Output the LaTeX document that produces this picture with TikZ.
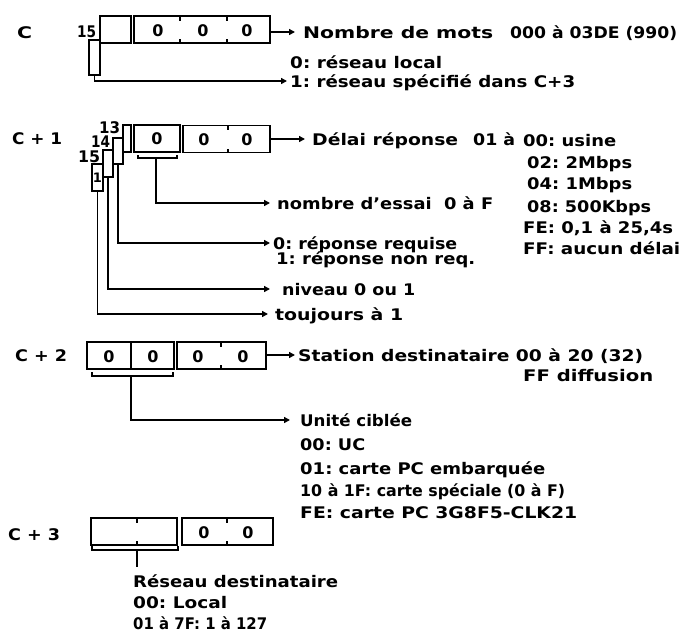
\documentclass[tikz,border=0pt]{standalone}
\usepackage{fontspec}
\usepackage{graphicx}
\setmainfont{DejaVu Sans}
\usetikzlibrary{arrows.meta}
\frenchspacing
\newcommand{\fw}[2]{\resizebox{#1pt}{\height}{#2}}
\begin{document}
\begin{tikzpicture}[x=1pt,y=-1pt,
  every node/.style={font=\fontsize{16}{19}\selectfont\bfseries},
  txt/.style={anchor=west, inner sep=0pt, text height=12pt, text depth=0pt},
  lbl/.style={inner sep=0pt, text height=12pt, text depth=0pt},
  box/.style={draw, line width=1.5pt, inner sep=0pt, minimum height=27pt},
  conn/.style={line width=1.5pt, -{Triangle[length=6pt,width=6pt]}},
  brk/.style={line width=1.5pt},
  tick/.style={line width=1.5pt}]
\useasboundingbox (0,0) rectangle (683,633);

% ---------- Row C ----------
\node[txt] (cC) at (17,32) {\fw{15}{C}};
\node[txt] (c15) at (77,31) {\fw{19}{15}};
\node[box, minimum width=31pt] (c0) at (115.5,29.5) {};
\node[box, minimum width=136pt] (c1) at (202,29.5) {};
\draw[tick] (180,16) -- (180,21) (180,43) -- (180,39);
\draw[tick] (227,16) -- (227,21) (227,43) -- (227,39);
\node[lbl] (c1a) at (158,30) {0};
\node[lbl] (c1b) at (203,30) {0};
\node[lbl] (c1c) at (247,30) {0};
\node[box, minimum width=11pt, minimum height=35pt] (cb15) at (94.5,57.5) {};
\node[txt] (cnom) at (303,32) {\fw{190}{Nombre de mots}};
\node[txt] (cnom2) at (510,32) {\fw{167}{000 à 03DE (990)}};
\node[txt] (cr0) at (290,62) {\fw{152}{0: réseau local}};
\node[txt] (cr1) at (290,81) {\fw{285}{1: réseau spécifié dans C+3}};
\draw[conn, shorten >=8pt] (c1.east |- cnom.west) -- (cnom.west);
\draw[conn, shorten >=3pt] (cb15.south) |- (cr1.west);

% ---------- Row C+1 ----------
\node[txt] (c1l) at (12,138) {\fw{50}{C + 1}};
\node[txt] (l13) at (99,127) {\fw{21}{13}};
\node[txt] (l14) at (91,141) {\fw{19}{14}};
\node[txt] (l15) at (78,156) {\fw{22}{15}};
\node[box, minimum width=8pt] (bA) at (127,138.5) {};
\node[box, minimum width=10pt, minimum height=26pt] (bB) at (118,151) {};
\node[box, minimum width=10pt] (bC) at (108,163.5) {};
\node[box, minimum width=11pt, font=\fontsize{13}{13}\selectfont\bfseries] (bD) at (97.5,177.5) {1};
\node[box, minimum width=46pt] (d0) at (157,138.5) {0};
\node[box, minimum width=87pt] (d1) at (226.5,139) {};
\draw[tick] (228,125) -- (228,130) (228,153) -- (228,149);
\node[lbl] (d1a) at (204,139) {0};
\node[lbl] (d1b) at (247,139) {0};
\draw[brk] (138,155) -- (138,158) -- (177,158) -- (177,155);
\coordinate (k1) at (156,158);
\node[txt] (tdel) at (312,139) {\fw{146}{Délai réponse}};
\node[txt] (tdel2) at (473,139) {\fw{42}{01 à}};
\node[txt] (r00) at (523,140) {\fw{93}{00: usine}};
\node[txt] (r02) at (527,162) {\fw{105}{02: 2Mbps}};
\node[txt] (r04) at (527,183) {\fw{105}{04: 1Mbps}};
\node[txt] (r08) at (527,206) {\fw{124}{08: 500Kbps}};
\node[txt] (rFE) at (523,227) {\fw{150}{FE: 0,1 à 25,4s}};
\node[txt] (rFF) at (523,248) {\fw{157}{FF: aucun délai}};
\node[txt] (tess) at (277,203) {\fw{216}{nombre d{\char"27}essai\ \ 0 à F}};
\node[txt] (trep0) at (273,243) {\fw{184}{0: réponse requise}};
\node[txt] (trep1) at (276,258) {\fw{199}{1: réponse non req.}};
\node[txt] (tniv) at (282,289) {\fw{133}{niveau 0 ou 1}};
\node[txt] (ttou) at (275,314) {\fw{128}{toujours à 1}};
\draw[conn, shorten >=7pt] (d1.east |- tdel.west) -- (tdel.west);
\draw[conn, shorten >=7pt] (k1) |- (tess.west);
\draw[conn, shorten >=3pt] (bB.south) |- (trep0.west);
\draw[conn, shorten >=12pt] (bC.south) |- (tniv.west);
\draw[conn, shorten >=7pt] (bD.south) |- (ttou.west);

% ---------- Row C+2 ----------
\node[txt] (c2l) at (15,355) {\fw{52}{C + 2}};
\node[box, minimum width=87pt] (e0) at (130.5,355.5) {};
\draw[tick] (131,342) -- (131,369);
\node[lbl] (e0a) at (109,356) {0};
\node[lbl] (e0b) at (153,356) {0};
\node[box, minimum width=89pt] (e1) at (221.5,355.5) {};
\draw[tick] (221,342) -- (221,347) (221,369) -- (221,365);
\node[lbl] (e1a) at (198,356) {0};
\node[lbl] (e1b) at (243,356) {0};
\node[txt] (tsta) at (298,355) {\fw{345}{Station destinataire 00 à 20 (32)}};
\node[txt] (tff) at (523,375) {\fw{130}{FF diffusion}};
\draw[conn, shorten >=3pt] (e1.east |- tsta.west) -- (tsta.west);
\draw[brk] (92,372) -- (92,376) -- (173,376) -- (173,372);
\coordinate (k2) at (131,376);
\node[txt] (tu0) at (300,420) {\fw{112}{Unité ciblée}};
\node[txt] (tu1) at (300,444) {\fw{65}{00: UC}};
\node[txt] (tu2) at (300,468) {\fw{245}{01: carte PC embarquée}};
\node[txt] (tu3) at (300,490) {\fw{265}{10 à 1F: carte spéciale (0 à F)}};
\node[txt] (tu4) at (300,512) {\fw{277}{FE: carte PC 3G8F5-CLK21}};
\draw[conn, shorten >=10pt] (k2) |- (tu0.west);

% ---------- Row C+3 ----------
\node[txt] (c3l) at (8,534) {\fw{52}{C + 3}};
\node[box, minimum width=86pt] (f0) at (134,531.5) {};
\draw[tick] (137,518) -- (137,523) (137,545) -- (137,541);
\node[box, minimum width=91pt] (f1) at (227.5,531.5) {};
\draw[tick] (227,518) -- (227,523) (227,545) -- (227,541);
\node[lbl] (f1a) at (204,532) {0};
\node[lbl] (f1b) at (248,532) {0};
\draw[brk] (92,546) -- (92,550) -- (178,550) -- (178,546);
\coordinate (k3) at (137,550);
\coordinate (k3e) at (137,567);
\draw[brk] (k3) -- (k3e);
\node[txt] (tr0) at (133,581) {\fw{205}{Réseau destinataire}};
\node[txt] (tr1) at (133,602) {\fw{94}{00: Local}};
\node[txt] (tr2) at (133,623) {\fw{134}{01 à 7F: 1 à 127}};
\end{tikzpicture}
\end{document}
